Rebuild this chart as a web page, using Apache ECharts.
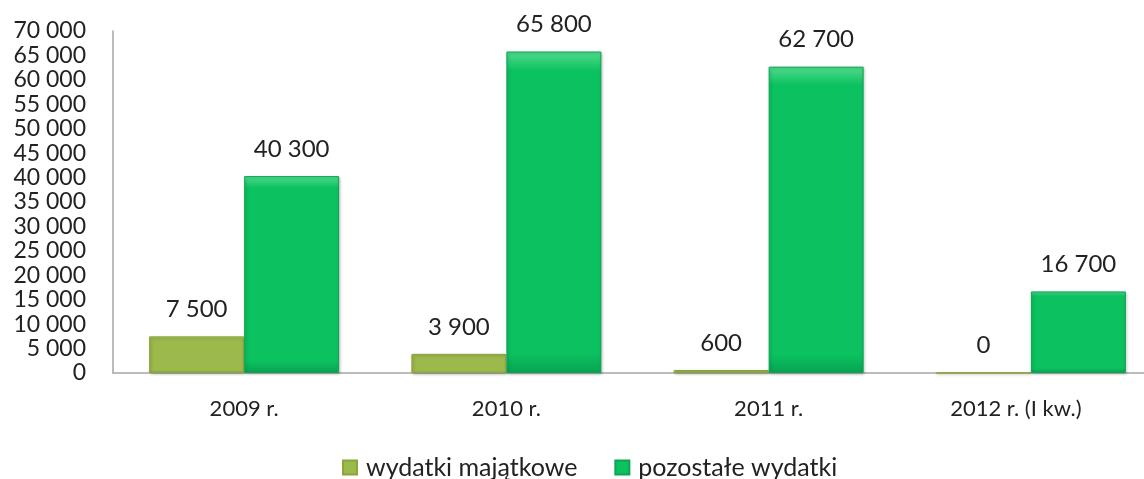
<!DOCTYPE html>
<html>
<head>
<meta charset="utf-8">
<script src="https://cdn.jsdelivr.net/npm/echarts@6/dist/echarts.min.js"></script>
<style>
  html, body { margin: 0; padding: 0; background: #fff; }
  #chart { width: 1144px; height: 479px; }
</style>
</head>
<body>
<div id="chart"></div>
<script>
const categories = ['2009 r.', '2010 r.', '2011 r.', '2012 r. (I kw.)']
const majatkowe = [7500, 3900, 600, 0]
const pozostale = [40300, 65800, 62700, 16700]

const fmt = v => String(v).replace(/\B(?=(\d{3})+(?!\d))/g, ' ')
const font = 'Lato, "Open Sans", sans-serif'

const grad = (top, mid, bottom) => new echarts.graphic.LinearGradient(0, 0, 0, 1, [
  { offset: 0, color: top },
  { offset: 0.06, color: mid },
  { offset: 0.94, color: mid },
  { offset: 1, color: bottom }
])

// last label sits a bit left of its category in the source
const xData = categories.map((c, i) =>
  i === categories.length - 1 ? { value: c, textStyle: { padding: [0, 30, 0, 0] } } : c
)

const chart = echarts.init(document.getElementById('chart'))
chart.setOption({
  animation: false,
  // the source picture is cropped on the right, so the plot runs past the edge
  grid: { left: 113, width: 1049, top: 31, height: 342, outerBoundsMode: 'none', containLabel: false },
  legend: {
    top: 450,
    left: 337,
    itemWidth: 14,
    itemHeight: 14,
    itemGap: 37,
    icon: 'rect',
    textStyle: { fontFamily: font, fontSize: 25, color: '#222', padding: [0, 0, 0, 4] },
    data: ['wydatki majątkowe', 'pozostałe wydatki']
  },
  xAxis: {
    type: 'category',
    data: xData,
    axisLine: { lineStyle: { color: '#a6a6a6', width: 1.5 } },
    axisTick: { show: false },
    axisLabel: { fontFamily: font, fontSize: 22, color: '#222', margin: 25 }
  },
  yAxis: {
    type: 'value',
    min: 0,
    max: 70000,
    interval: 5000,
    splitLine: { show: false },
    axisLine: { show: true, lineStyle: { color: '#a6a6a6', width: 1.5 } },
    axisTick: { show: false },
    axisLabel: { fontFamily: font, fontSize: 23, color: '#222', margin: 27, formatter: fmt }
  },
  series: [
    {
      name: 'wydatki majątkowe',
      type: 'bar',
      data: majatkowe,
      barWidth: 95,
      barGap: '0%',
      itemStyle: {
        color: grad('#c3d96e', '#9cb94c', '#7f9a35'),
        borderColor: '#8aa43e',
        borderWidth: 1,
        shadowColor: 'rgba(0,0,0,0.25)',
        shadowBlur: 3,
        shadowOffsetX: 1,
        shadowOffsetY: 1
      },
      label: {
        show: true,
        position: 'top',
        distance: 15,
        fontFamily: font,
        fontSize: 24,
        color: '#222',
        formatter: p => fmt(p.value)
      }
    },
    {
      name: 'pozostałe wydatki',
      type: 'bar',
      data: pozostale,
      barWidth: 95,
      itemStyle: {
        color: grad('#52dc8e', '#0bc160', '#08a351'),
        borderColor: '#0aa653',
        borderWidth: 1,
        shadowColor: 'rgba(0,0,0,0.25)',
        shadowBlur: 3,
        shadowOffsetX: 1,
        shadowOffsetY: 1
      },
      label: {
        show: true,
        position: 'top',
        distance: 15,
        fontFamily: font,
        fontSize: 24,
        color: '#222',
        formatter: p => fmt(p.value)
      }
    }
  ]
})
</script>
</body>
</html>
